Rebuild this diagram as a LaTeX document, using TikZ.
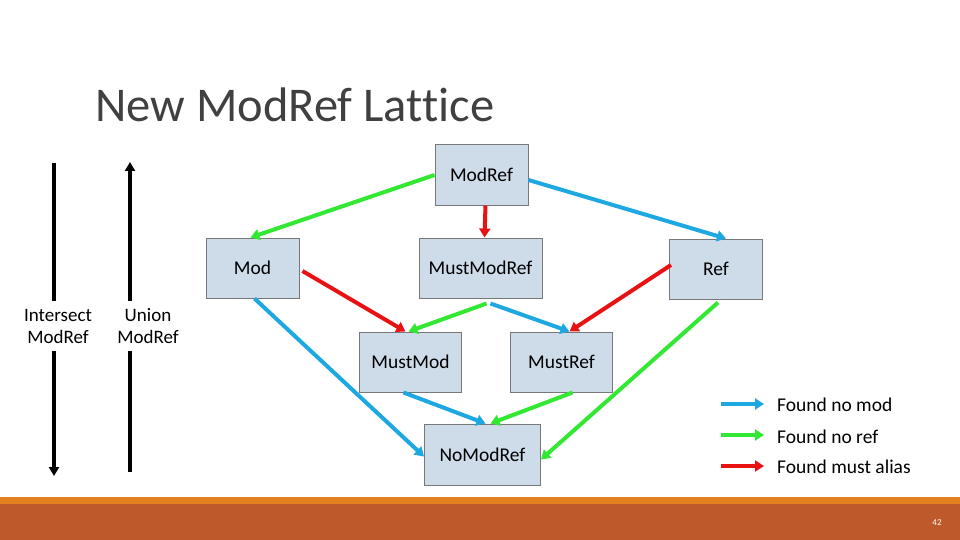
\documentclass[tikz,border=0pt]{standalone}
\usepackage{fontspec}
\setmainfont{Carlito}[Ligatures=CommonOff]
\usetikzlibrary{arrows.meta}

\definecolor{nomodblue}{RGB}{30,168,226}
\definecolor{norefgreen}{RGB}{50,232,50}
\definecolor{aliasred}{RGB}{232,18,18}
\definecolor{boxfill}{RGB}{205,220,232}
\definecolor{boxline}{RGB}{120,120,120}
\definecolor{titlegray}{RGB}{64,64,64}
\definecolor{barorange}{RGB}{226,128,30}
\definecolor{barrust}{RGB}{190,89,44}

\begin{document}
\begin{tikzpicture}[
  x=1pt,y=-1pt,
  box/.style={draw=boxline,fill=boxfill,line width=1pt,minimum width=#1,
    minimum height=60pt,inner sep=0pt,font=\fontsize{19.5}{22}\selectfont},
  box/.default=93pt,
  lat/.style={line width=4pt,-{Triangle[length=9pt,width=11pt]}},
  nomod/.style={lat,draw=nomodblue,fill=nomodblue},
  noref/.style={lat,draw=norefgreen,fill=norefgreen},
  mustalias/.style={lat,draw=aliasred,fill=aliasred},
  order/.style={line width=3.5pt,black},
  sidetext/.style={align=center,inner sep=2pt,minimum height=50pt,
    font=\fontsize{19}{22}\selectfont},
  keytext/.style={anchor=west,inner sep=0pt,font=\fontsize{19.5}{22}\selectfont}
  ]
  \useasboundingbox (0,0) rectangle (960,540);

  % slide footer
  \fill[barorange] (0,497) rectangle (960,504);
  \fill[barrust] (0,504) rectangle (960,540);
  \node[text=white,font=\fontsize{9}{10}\selectfont] (PageNo) at (937,523) {42};

  % title
  \node[anchor=west,inner sep=0pt,text=titlegray,font=\fontsize{48.5}{52}\selectfont]
    (Title) at (95,105) {New ModRef Lattice};

  % lattice
  \node[box]        (ModRef)     at (481.5,175) {ModRef};
  \node[box]        (Mod)        at (252.5,268) {Mod};
  \node[box=123pt]  (MustModRef) at (480.5,268) {MustModRef};
  \node[box]        (Ref)        at (716,269)   {Ref};
  \node[box=102pt]  (MustMod)    at (410.5,362) {MustMod};
  \node[box=102pt]  (MustRef)    at (561.5,362) {MustRef};
  \node[box=116pt,minimum height=61pt] (NoModRef) at (482.5,454.5) {NoModRef};

  \path
  (ModRef.west)                         edge[noref]     ([xshift=-2pt]Mod.north)
  ([yshift=-5pt]ModRef.east)            edge[nomod]     ([xshift=10pt]Ref.north)
  ([xshift=4pt]ModRef.south)            edge[mustalias] ([xshift=4pt]MustModRef.north)
  ([xshift=3pt,yshift=-3pt]Mod.east)    edge[mustalias] ([xshift=-5pt]MustMod.north)
  ([xshift=2pt,yshift=4pt]Ref.west)     edge[mustalias] ([xshift=8pt]MustRef.north)
  ([xshift=6pt,yshift=-5pt]MustModRef.south)  edge[noref] ([xshift=-2pt]MustMod.north)
  ([xshift=10pt,yshift=-5pt]MustModRef.south) edge[nomod] ([xshift=8pt]MustRef.north)
  ([xshift=2pt]Mod.south)               edge[nomod]     ([yshift=-2pt]NoModRef.west)
  ([xshift=2pt,yshift=-3pt]Ref.south)   edge[noref]     ([yshift=-5pt]NoModRef.east)
  ([xshift=-7pt]MustMod.south)          edge[nomod]     ([xshift=3pt]NoModRef.north)
  ([xshift=11pt]MustRef.south)          edge[noref]     ([xshift=8pt]NoModRef.north)
  ;

  % intersect / union
  \node[sidetext] (Isect) at (58,326) {Intersect\\ModRef};
  \node[sidetext] (Union) at (148,326) {Union\\ModRef};
  \coordinate (IsectTop) at (54,163);
  \coordinate (IsectBot) at (54,476);
  \coordinate (UnionTop) at (130,162);
  \coordinate (UnionBot) at (130,472);
  \draw[order] (IsectTop) -- (IsectTop |- Isect.north);
  \draw[order,-{Triangle[length=9pt,width=10pt]}] (IsectTop |- Isect.south) -- (IsectBot);
  \draw[order,-{Triangle[length=9pt,width=10pt]}] (UnionBot |- Union.north) -- (UnionTop);
  \draw[order] (UnionBot |- Union.south) -- (UnionBot);

  % key
  \node[keytext] (KeyMod)   at (777,405) {Found no mod};
  \node[keytext] (KeyRef)   at (777,437) {Found no ref};
  \node[keytext] (KeyAlias) at (777,467) {Found must alias};
  \coordinate (KeyModStart)   at (721,404);
  \coordinate (KeyRefStart)   at (721,435);
  \coordinate (KeyAliasStart) at (721,466);
  \path
  (KeyModStart)   edge[nomod]     ([xshift=-13pt,yshift=1pt]KeyMod.west)
  (KeyRefStart)   edge[noref]     ([xshift=-13pt,yshift=2pt]KeyRef.west)
  (KeyAliasStart) edge[mustalias] ([xshift=-13pt,yshift=1pt]KeyAlias.west)
  ;
\end{tikzpicture}
\end{document}
